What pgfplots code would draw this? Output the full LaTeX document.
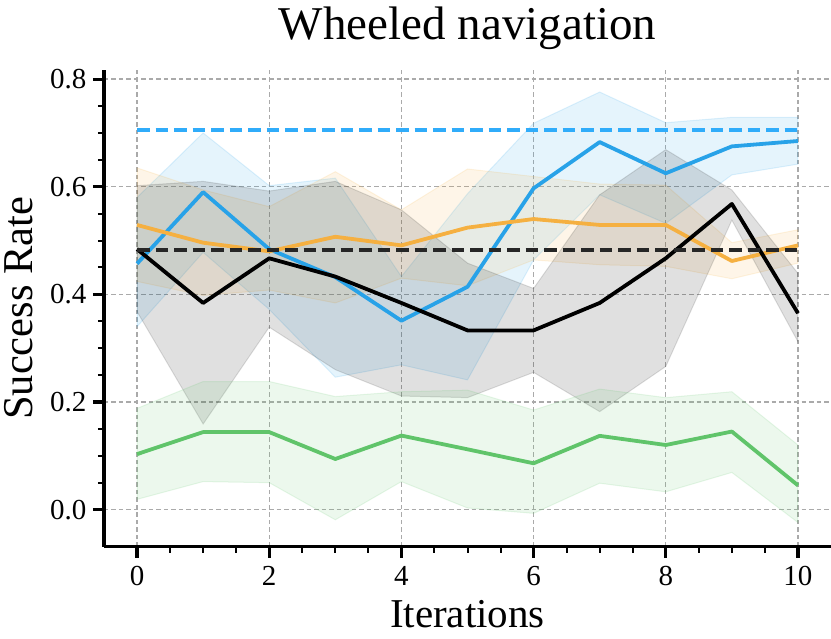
\documentclass[border=0pt]{standalone}
\usepackage{fontspec}
\setmainfont{Liberation Serif}
\usepackage{pgfplots}
\pgfplotsset{compat=1.18}
\usepackage{pgfplotstable}
\usepgfplotslibrary{fillbetween}

\definecolor{cblue}{RGB}{40,162,232}
\definecolor{cblued}{RGB}{48,172,250}
\definecolor{corange}{RGB}{245,176,65}
\definecolor{cgreen}{RGB}{96,196,106}
\definecolor{cblack}{RGB}{0,0,0}
\definecolor{cgrid}{RGB}{170,170,170}

% x mean lower upper
\pgfplotstableread{
x m lo hi
0 0.457 0.340 0.580
1 0.590 0.478 0.700
2 0.484 0.372 0.602
3 0.432 0.246 0.616
4 0.351 0.269 0.433
5 0.414 0.241 0.587
6 0.597 0.464 0.718
7 0.683 0.585 0.776
8 0.625 0.532 0.719
9 0.675 0.622 0.729
10 0.685 0.642 0.729
}\tblue
\pgfplotstableread{
x m lo hi
0 0.529 0.424 0.635
1 0.496 0.398 0.594
2 0.480 0.408 0.563
3 0.507 0.384 0.628
4 0.491 0.430 0.557
5 0.524 0.416 0.633
6 0.540 0.464 0.619
7 0.529 0.455 0.605
8 0.529 0.452 0.603
9 0.462 0.429 0.496
10 0.491 0.458 0.520
}\torange
\pgfplotstableread{
x m lo hi
0 0.484 0.368 0.602
1 0.384 0.159 0.610
2 0.467 0.339 0.592
3 0.433 0.260 0.610
4 0.384 0.211 0.557
5 0.333 0.208 0.458
6 0.333 0.255 0.411
7 0.384 0.182 0.585
8 0.467 0.266 0.669
9 0.568 0.538 0.594
10 0.365 0.312 0.439
}\tblack
\pgfplotstableread{
x m lo hi
0 0.103 0.019 0.188
1 0.144 0.052 0.238
2 0.144 0.050 0.238
3 0.094 -0.019 0.210
4 0.1375 0.052 0.219
5 0.112 0.003 0.222
6 0.086 -0.007 0.185
7 0.137 0.049 0.224
8 0.120 0.033 0.208
9 0.145 0.069 0.219
10 0.045 -0.024 0.120
}\tgreen

\begin{document}
\begin{tikzpicture}
\begin{axis}[
  at={(0,0)}, anchor=south west,
  scale only axis,
  width=727pt, height=476.7pt,
  xmin=-0.5, xmax=10.5,
  ymin=-0.069, ymax=0.817,
  axis lines=left,
  axis line style={-, line width=3.3pt, black},
  xtick={0,2,4,6,8,10},
  ytick={0,0.2,0.4,0.6,0.8},
  minor x tick num=3,
  minor y tick num=3,
  tick align=outside,
  major tick length=11pt,
  minor tick length=6pt,
  every major tick/.append style={line width=3.2pt, black},
  every minor tick/.append style={line width=2pt, black},
  xmajorgrids, ymajorgrids,
  major grid style={cgrid, line width=1.3pt, dash pattern=on 4.5pt off 3pt},
  /pgf/number format/assume math mode=true,
  yticklabel style={/pgf/number format/fixed, /pgf/number format/precision=1, /pgf/number format/fixed zerofill, xshift=-3pt},
  xticklabel style={yshift=-5pt},
  ticklabel style={font=\fontsize{29}{34}\selectfont},
  title={Wheeled navigation},
  title style={font=\fontsize{47}{56}\selectfont, inner sep=0pt, at={(axis description cs:0.5,1)}, anchor=base, yshift=24pt},
  xlabel={Iterations},
  xlabel style={font=\fontsize{41}{50}\selectfont, inner sep=0pt, at={(axis description cs:0.5,0)}, anchor=base, yshift=-81pt},
  ylabel={Success Rate},
  ylabel style={font=\fontsize{42.5}{50}\selectfont, inner sep=0pt, at={(axis description cs:-0.0985,0.5)}, anchor=base},
  clip=false,
]
% bands
\addplot[name path=bu, draw=none, forget plot] table[x=x,y=hi]{\tblue};
\addplot[name path=bl, draw=none, forget plot] table[x=x,y=lo]{\tblue};
\addplot[fill=cblue, fill opacity=0.12, draw=cblue, draw opacity=0.15, line width=1pt, forget plot] fill between[of=bu and bl];
\addplot[name path=ou, draw=none, forget plot] table[x=x,y=hi]{\torange};
\addplot[name path=ol, draw=none, forget plot] table[x=x,y=lo]{\torange};
\addplot[fill=corange, fill opacity=0.12, draw=corange, draw opacity=0.15, line width=1pt, forget plot] fill between[of=ou and ol];
\addplot[name path=ku, draw=none, forget plot] table[x=x,y=hi]{\tblack};
\addplot[name path=kl, draw=none, forget plot] table[x=x,y=lo]{\tblack};
\addplot[fill=black, fill opacity=0.12, draw=black, draw opacity=0.12, line width=1pt, forget plot] fill between[of=ku and kl];
\addplot[name path=gu, draw=none, forget plot] table[x=x,y=hi]{\tgreen};
\addplot[name path=gl, draw=none, forget plot] table[x=x,y=lo]{\tgreen};
\addplot[fill=cgreen, fill opacity=0.12, draw=cgreen, draw opacity=0.15, line width=1pt, forget plot] fill between[of=gu and gl];
% mean lines
\addplot[cgreen, line width=3.8pt, line join=round] table[x=x,y=m]{\tgreen};
\addplot[cblue, line width=3.8pt, line join=round] table[x=x,y=m]{\tblue};
\addplot[corange, line width=3.8pt, line join=round] table[x=x,y=m]{\torange};
\addplot[cblack, line width=3.8pt, line join=round] table[x=x,y=m]{\tblack};
% reference lines
\addplot[cblued, line width=3.9pt, dash pattern=on 12.5pt off 6pt] coordinates {(0,0.705) (10,0.705)};
\addplot[black!85, line width=3.9pt, dash pattern=on 12.5pt off 6pt] coordinates {(0,0.483) (10,0.483)};
\end{axis}
\pgfresetboundingbox
\path[use as bounding box] (-104pt,-92.3pt) rectangle (727pt,546.7pt);
\end{tikzpicture}
\end{document}
